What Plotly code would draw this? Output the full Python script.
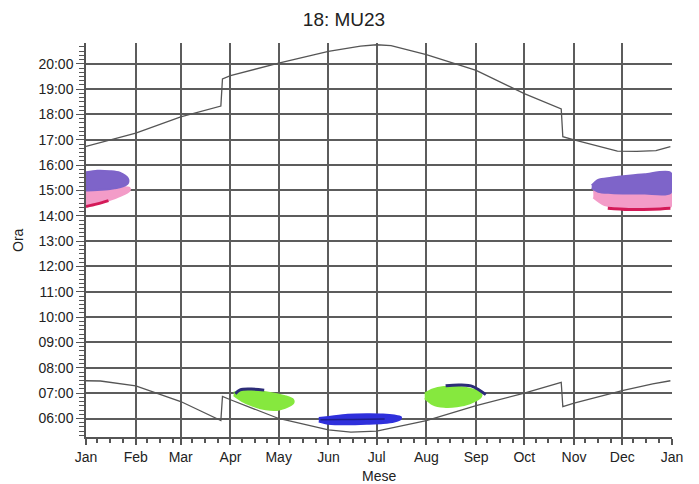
import plotly.graph_objects as go

# sunset line (upper), hours as decimal
sunset_dates = ["2023-01-01", "2023-01-15", "2023-02-01", "2023-03-01", "2023-03-26",
                "2023-03-27", "2023-04-01", "2023-05-01", "2023-06-01", "2023-06-21",
                "2023-07-01", "2023-07-10", "2023-08-01", "2023-09-01", "2023-10-01",
                "2023-10-24", "2023-10-25", "2023-11-01", "2023-11-28", "2023-12-10",
                "2023-12-22", "2023-12-31"]
sunset_hours = [16.74, 16.98, 17.26, 17.90, 18.33,
                19.40, 19.53, 20.03, 20.49, 20.70,
                20.75, 20.72, 20.36, 19.74, 18.82,
                18.22, 17.12, 17.00, 16.55, 16.54,
                16.57, 16.73]

# sunrise line (lower)
sunrise_dates = ["2023-01-01", "2023-01-10", "2023-02-01", "2023-03-01", "2023-03-26",
                 "2023-03-27", "2023-04-01", "2023-05-01", "2023-06-01", "2023-06-15",
                 "2023-07-01", "2023-08-01", "2023-09-01", "2023-10-01", "2023-10-24",
                 "2023-10-25", "2023-11-01", "2023-12-01", "2023-12-20", "2023-12-31"]
sunrise_hours = [7.49, 7.48, 7.29, 6.67, 5.92,
                 6.87, 6.74, 6.00, 5.55, 5.46,
                 5.50, 5.92, 6.51, 7.00, 7.43,
                 6.47, 6.61, 7.10, 7.37, 7.49]

# coloured clusters: (dates, upper, lower)
purple_jan_dates = ["2023-01-01", "2023-01-08", "2023-01-16", "2023-01-22", "2023-01-27"]
purple_jan_hi = [15.72, 15.78, 15.76, 15.70, 15.48]
purple_jan_lo = [15.00, 15.02, 15.06, 15.12, 15.28]

pink_jan_dates = ["2023-01-01", "2023-01-08", "2023-01-16", "2023-01-22", "2023-01-28"]
pink_jan_hi = [15.00, 15.02, 15.06, 15.12, 15.10]
pink_jan_lo = [14.38, 14.48, 14.63, 14.78, 14.98]

crimson_jan_dates = ["2023-01-01", "2023-01-08", "2023-01-15"]
crimson_jan_hours = [14.37, 14.47, 14.60]

purple_dec_dates = ["2023-11-12", "2023-11-16", "2023-11-24", "2023-12-05", "2023-12-15", "2023-12-31"]
purple_dec_hi = [15.20, 15.42, 15.50, 15.58, 15.64, 15.70]
purple_dec_lo = [15.10, 14.95, 14.90, 14.88, 14.88, 14.90]

pink_dec_dates = ["2023-11-13", "2023-11-20", "2023-12-01", "2023-12-15", "2023-12-31"]
pink_dec_hi = [14.98, 14.92, 14.90, 14.88, 14.90]
pink_dec_lo = [14.72, 14.42, 14.33, 14.30, 14.35]

crimson_dec_dates = ["2023-11-22", "2023-12-05", "2023-12-20", "2023-12-31"]
crimson_dec_hours = [14.30, 14.25, 14.26, 14.30]

green_apr_dates = ["2023-04-03", "2023-04-08", "2023-04-15", "2023-04-23", "2023-04-30", "2023-05-05", "2023-05-10"]
green_apr_hi = [7.02, 7.10, 7.10, 7.04, 6.96, 6.88, 6.74]
green_apr_lo = [6.92, 6.70, 6.50, 6.36, 6.34, 6.42, 6.60]

navy_apr_dates = ["2023-04-04", "2023-04-07", "2023-04-14", "2023-04-22"]
navy_apr_hours = [6.98, 7.13, 7.16, 7.12]

blue_jun_dates = ["2023-05-26", "2023-06-01", "2023-06-13", "2023-06-25", "2023-07-05", "2023-07-12", "2023-07-16"]
blue_jun_hi = [6.02, 6.06, 6.15, 6.17, 6.16, 6.12, 6.06]
blue_jun_lo = [5.88, 5.79, 5.77, 5.79, 5.82, 5.88, 5.98]

navy_jun_dates = ["2023-05-27", "2023-06-10", "2023-06-25", "2023-07-06"]
navy_jun_hours = [5.95, 5.96, 5.97, 5.98]

green_aug_dates = ["2023-07-31", "2023-08-05", "2023-08-12", "2023-08-20", "2023-08-28", "2023-09-04"]
green_aug_hi = [6.98, 7.15, 7.24, 7.25, 7.18, 7.00]
green_aug_lo = [6.80, 6.56, 6.46, 6.48, 6.60, 6.86]

navy_aug_dates = ["2023-08-13", "2023-08-22", "2023-08-30", "2023-09-07"]
navy_aug_hours = [7.29, 7.32, 7.26, 6.94]

hour_ticks = list(range(6, 21))
hour_labels = [f"{h:02d}:00" for h in hour_ticks]

FONT = "Liberation Sans, Arial, sans-serif"

fig = go.Figure()


def band(dates, hi, lo, color):
    fig.add_trace(go.Scatter(
        x=dates + dates[::-1],
        y=hi + lo[::-1],
        mode="lines",
        fill="toself",
        fillcolor=color,
        line=dict(color=color, width=2, shape="spline", smoothing=0.8),
        hoverinfo="skip",
        showlegend=False
    ))


def stroke(dates, hours, color, width, shape="spline"):
    fig.add_trace(go.Scatter(
        x=dates, y=hours, mode="lines",
        line=dict(color=color, width=width, shape=shape),
        hoverinfo="skip", showlegend=False
    ))


band(pink_jan_dates, pink_jan_hi, pink_jan_lo, "#f39cc8")
band(purple_jan_dates, purple_jan_hi, purple_jan_lo, "#7e64c9")
stroke(crimson_jan_dates, crimson_jan_hours, "#d41a58", 3)

band(pink_dec_dates, pink_dec_hi, pink_dec_lo, "#f39cc8")
band(purple_dec_dates, purple_dec_hi, purple_dec_lo, "#7e64c9")
stroke(crimson_dec_dates, crimson_dec_hours, "#d41a58", 3)

band(green_apr_dates, green_apr_hi, green_apr_lo, "#86e83e")
stroke(navy_apr_dates, navy_apr_hours, "#2c2c78", 3)

band(blue_jun_dates, blue_jun_hi, blue_jun_lo, "#2f30dc")
stroke(navy_jun_dates, navy_jun_hours, "#1e1e8c", 1.5)

band(green_aug_dates, green_aug_hi, green_aug_lo, "#86e83e")
stroke(navy_aug_dates, navy_aug_hours, "#2c2c78", 3)

stroke(sunset_dates, sunset_hours, "#555555", 1.3, "linear")
stroke(sunrise_dates, sunrise_hours, "#555555", 1.3, "linear")

minor_x = [f"2023-{m:02d}-{d:02d}" for m in range(1, 13) for d in (8, 16, 24)]

# page body has an 8px margin, so the figure is sized and placed to compensate
fig.update_layout(
    width=691,
    height=476,
    margin=dict(l=78, r=27, t=35, b=47),
    paper_bgcolor="white",
    plot_bgcolor="white",
    font=dict(family=FONT, size=14, color="#222222"),
    title=dict(text="18: MU23", x=336 / 691, xref="container", xanchor="center",
               y=1 - 11 / 476, yref="container", yanchor="middle",
               font=dict(size=19, color="#222222", family=FONT)),
    xaxis=dict(
        type="date",
        range=["2023-01-01", "2024-01-01"],
        dtick="M1",
        tick0="2023-01-01",
        tickformat="%b",
        showgrid=True,
        gridcolor="#5c5c5c",
        gridwidth=2,
        showline=True,
        linecolor="#555555",
        linewidth=1.5,
        ticks="outside",
        ticklen=6,
        tickcolor="#555555",
        tickwidth=1.5,
        zeroline=False,
        minor=dict(tickmode="array", tickvals=minor_x, ticks="outside",
                   ticklen=4, tickcolor="#555555", showgrid=False),
        tickfont=dict(size=14, color="#222222")
    ),
    yaxis=dict(
        range=[5.27, 20.82],
        tickmode="array",
        tickvals=hour_ticks,
        ticktext=hour_labels,
        showgrid=True,
        gridcolor="#5c5c5c",
        gridwidth=2,
        showline=True,
        linecolor="#555555",
        linewidth=1.5,
        ticks="outside",
        ticklen=8,
        tickcolor="#555555",
        tickwidth=1.2,
        zeroline=False,
        minor=dict(dtick=1 / 6, tick0=0, ticks="outside", ticklen=5,
                   tickcolor="#555555", showgrid=False),
        tickfont=dict(size=14, color="#222222")
    ),
    annotations=[
        dict(text="Mese", xref="paper", yref="paper", x=0.5, y=(437 - 476) / 394,
             xanchor="center", yanchor="middle", showarrow=False,
             font=dict(size=14, color="#222222")),
        dict(text="Ora", xref="paper", yref="paper", x=(18 - 86) / 586, y=0.5,
             xanchor="center", yanchor="middle", textangle=-90, showarrow=False,
             font=dict(size=14, color="#222222"))
    ]
)

fig.write_html("out.html")
